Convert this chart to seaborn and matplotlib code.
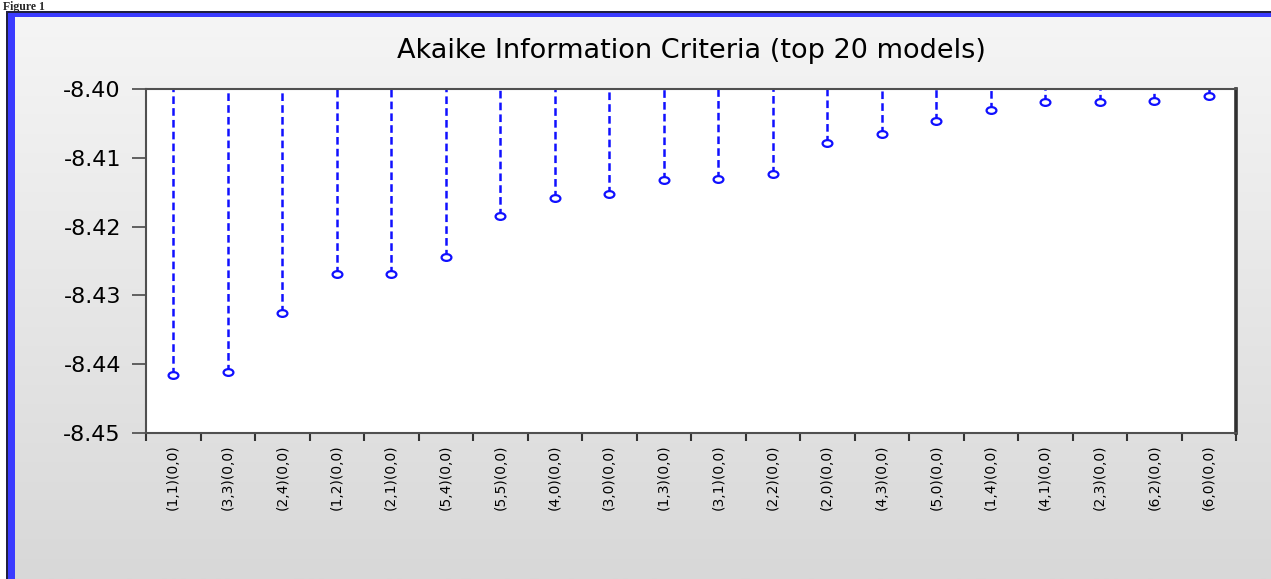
import numpy as np
import matplotlib.pyplot as plt
import seaborn as sns
from matplotlib.patches import Rectangle
from matplotlib.path import Path
from matplotlib.transforms import Affine2D
from matplotlib.colors import LinearSegmentedColormap

# Dati: modelli ARMA e valore AIC (top 20)
models = ["(1,1)(0,0)", "(3,3)(0,0)", "(2,4)(0,0)", "(1,2)(0,0)", "(2,1)(0,0)",
          "(5,4)(0,0)", "(5,5)(0,0)", "(4,0)(0,0)", "(3,0)(0,0)", "(1,3)(0,0)",
          "(3,1)(0,0)", "(2,2)(0,0)", "(2,0)(0,0)", "(4,3)(0,0)", "(5,0)(0,0)",
          "(1,4)(0,0)", "(4,1)(0,0)", "(2,3)(0,0)", "(6,2)(0,0)", "(6,0)(0,0)"]
aic = [-8.4416, -8.4411, -8.4326, -8.4269, -8.4269,
       -8.4244, -8.4185, -8.4158, -8.4153, -8.4132,
       -8.4131, -8.4124, -8.4078, -8.4065, -8.4047,
       -8.4031, -8.4019, -8.4019, -8.4017, -8.4010]
y_ticks = [-8.40, -8.41, -8.42, -8.43, -8.44, -8.45]

sns.set_style("white")
plt.rcParams["font.family"] = ["DejaVu Sans"]
plt.rcParams["lines.scale_dashes"] = False

blue = "#1010ff"

fig = plt.figure(figsize=(12.71, 5.79), dpi=100, facecolor="white")
W, H = 1271, 579

# Sfondo grigio sfumato (stile EViews)
bg = fig.add_axes([15 / W, 0, 1 - 15 / W, 1 - 17 / H], zorder=-2)
grad = np.linspace(0, 1, 256).reshape(-1, 1)
bg.imshow(grad, aspect="auto", extent=[0, 1, 0, 1],
          cmap=LinearSegmentedColormap.from_list("g", ["#f5f5f5", "#d8d8d8"]))
bg.axis("off")

# Bordo blu a sinistra e in alto
fig.patches.append(Rectangle((7 / W, 0), 8 / W, 1 - 12 / H, transform=fig.transFigure,
                             facecolor="#3a3aff", edgecolor="none", zorder=5))
fig.patches.append(Rectangle((7 / W, 1 - 17 / H), 1, 5 / H, transform=fig.transFigure,
                             facecolor="#3a3aff", edgecolor="none", zorder=5))
fig.patches.append(Rectangle((6 / W, 0), 2 / W, 1 - 12 / H, transform=fig.transFigure,
                             facecolor="#202040", edgecolor="none", zorder=6))
fig.patches.append(Rectangle((6 / W, 1 - 13 / H), 1, 2 / H, transform=fig.transFigure,
                             facecolor="#202040", edgecolor="none", zorder=6))

# Testo "Figure 1" nella striscia bianca in alto
fig.text(0.002, 1 - 10 / H, "Figure 1", fontsize=8.5, fontweight="bold",
         family=["Liberation Serif"], va="baseline", ha="left")

# Grafico principale
ax = fig.add_axes([146 / W, 1 - 433 / H, (1236 - 146) / W, (433 - 89) / H])
ax.set_facecolor("white")

# Marker ellittico aperto
ellipse = Path.unit_circle().transformed(Affine2D().scale(1.45, 1.0))

sns.scatterplot(x=models, y=aic, ax=ax, marker=ellipse, s=50,
                facecolor="white", edgecolor=blue, linewidth=1.6, zorder=3)
ax.vlines(models, aic, y_ticks[0], colors=blue, linewidth=1.8,
          linestyles=[(0, (5.5, 3))], zorder=2)

ax.set_ylim(-8.45, -8.40)
ax.set_xlim(-0.5, len(models) - 0.5)

# Tick principali ai bordi delle categorie, etichette al centro
ax.set_xticks(np.arange(-0.5, len(models), 1))
ax.set_xticklabels([])
ax.set_xticks(np.arange(len(models)), labels=models, minor=True)
ax.tick_params(axis="x", which="major", direction="out", length=6, width=1.5,
               bottom=True, color="#333333")
ax.tick_params(axis="x", which="minor", length=0, pad=8, labelsize=10,
               labelrotation=90, labelcolor="black")
ax.set_yticks(y_ticks)
ax.set_yticklabels([f"{v:.2f}" for v in y_ticks])
ax.tick_params(axis="y", direction="out", length=10, width=1.3, left=True,
               pad=8, labelsize=16, color="#555555", labelcolor="black")

for side in ["top", "bottom", "left"]:
    ax.spines[side].set_color("#505050")
    ax.spines[side].set_linewidth(1.5)
ax.spines["right"].set_color("#303030")
ax.spines["right"].set_linewidth(2.6)

ax.set_xlabel("")
ax.set_ylabel("")
ax.set_title("Akaike Information Criteria (top 20 models)", fontsize=19.5,
             pad=22, color="black")

plt.savefig("out.png", dpi=100)
